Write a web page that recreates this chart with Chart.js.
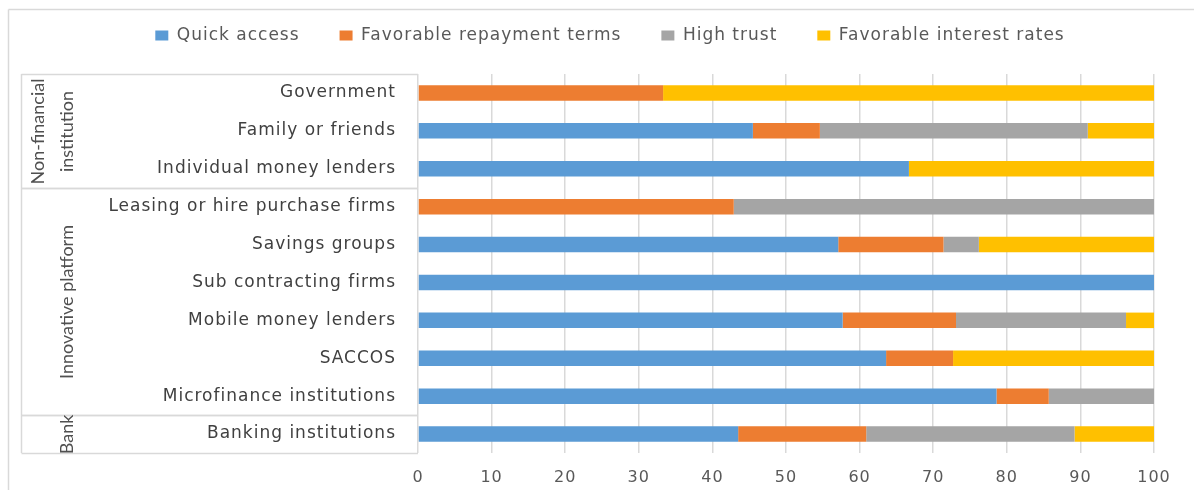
<!DOCTYPE html>
<html>
<head>
<meta charset="utf-8">
<title>Reasons for choosing a source of finance</title>
<script src="https://cdn.jsdelivr.net/npm/chart.js@4.4.0/dist/chart.umd.min.js"></script>
<style>
  html, body { margin: 0; padding: 0; background: #ffffff; }
  #wrap { width: 1194px; height: 490px; position: relative; }
</style>
</head>
<body>
<div id="wrap"><canvas id="chart" width="1194" height="490"></canvas></div>
<script>
// Sources of finance, top to bottom
const categories = [
  'Government',
  'Family or friends',
  'Individual money lenders',
  'Leasing or hire purchase firms',
  'Savings groups',
  'Sub contracting firms',
  'Mobile money lenders',
  'SACCOS',
  'Microfinance institutions',
  'Banking institutions'
];

// Share of respondents (%) citing each reason
const quickAccess        = [0,    45.5, 66.7, 0,    57.1, 100, 57.7, 63.6, 78.6, 43.5];
const repaymentTerms     = [33.3, 9.1,  0,    42.9, 14.3, 0,   15.4, 9.1,  7.1,  17.4];
const highTrust          = [0,    36.4, 0,    57.1, 4.8,  0,   23.1, 0,    14.3, 28.3];
const interestRates      = [66.7, 9.1,  33.3, 0,    23.8, 0,   3.8,  27.3, 0,    10.9];

const seriesNames = ['Quick access', 'Favorable repayment terms', 'High trust', 'Favorable interest rates'];
const seriesColors = ['#5B9BD5', '#ED7D31', '#A5A5A5', '#FFC000'];

// Institution types grouping the rows (first/last row index)
const groupNames = [['Non-financial', 'institution'], ['Innovative platform'], ['Bank']];
const groupFirst = [0, 3, 9];
const groupLast  = [2, 8, 9];

// Value axis
const axisMin = 0;
const axisMax = 100;
const axisStep = 10;

const LINE = '#d9d9d9';
const TEXT = '#595959';
const SPACING = '1px';
const FONT = 'DejaVu Sans';

// Wide letter spacing for all chart text
const spacingPlugin = {
  id: 'spacing',
  beforeLayout(chart) { chart.ctx.letterSpacing = SPACING; },
  beforeDraw(chart) { chart.ctx.letterSpacing = SPACING; }
};

// Nudge the legend row horizontally
const LEGEND_SHIFT = 33;
const legendShift = {
  id: 'legendShift',
  afterLayout(chart) {
    if (chart.legend) { chart.legend.left += LEGEND_SHIFT; chart.legend.right += LEGEND_SHIFT; }
  }
};

// Outer frame, category table rules and rotated group labels
const tablePlugin = {
  id: 'table',
  afterDraw(chart) {
    const { ctx, chartArea: a, scales: { y } } = chart;
    const half = Math.abs(y.getPixelForValue(1) - y.getPixelForValue(0)) / 2;
    const tableLeft = 21.5;
    const seg = (x1, y1, x2, y2) => { ctx.beginPath(); ctx.moveTo(x1, y1); ctx.lineTo(x2, y2); ctx.stroke(); };

    ctx.save();
    ctx.letterSpacing = '0px';
    ctx.strokeStyle = LINE;
    ctx.lineWidth = 1.5;
    seg(8.5, 9.5, chart.width, 9.5);
    seg(8.5, 9.5, 8.5, chart.height);
    seg(tableLeft, a.top, tableLeft, a.bottom);

    ctx.fillStyle = '#505050';
    ctx.font = '18px "Liberation Sans Narrow", Lato, sans-serif';
    ctx.textAlign = 'center';
    ctx.textBaseline = 'middle';
    groupNames.forEach((lines, i) => {
      const top = Math.round(y.getPixelForValue(groupFirst[i]) - half) + 0.5;
      const bottom = Math.round(y.getPixelForValue(groupLast[i]) + half) + 0.5;
      seg(tableLeft, top, a.left, top);
      seg(tableLeft, bottom, a.left, bottom);
      const cy = (top + bottom) / 2;
      lines.forEach((txt, j) => {
        const x = 67 - 29 * (lines.length - 1 - j);
        ctx.save();
        ctx.translate(x, cy);
        ctx.rotate(-Math.PI / 2);
        ctx.fillText(txt, 0, 0);
        ctx.restore();
      });
    });
    ctx.restore();
  }
};

const seriesData = [quickAccess, repaymentTerms, highTrust, interestRates];

new Chart(document.getElementById('chart'), {
  type: 'bar',
  data: {
    labels: categories,
    datasets: seriesData.map((d, i) => ({
      label: seriesNames[i],
      data: d,
      backgroundColor: seriesColors[i],
      borderWidth: 0,
      barPercentage: 0.41,
      categoryPercentage: 1
    }))
  },
  options: {
    indexAxis: 'y',
    responsive: false,
    devicePixelRatio: 1,
    animation: false,
    layout: { padding: { top: -13, right: 40, bottom: 0, left: 0 } },
    plugins: {
      tooltip: { enabled: false },
      legend: {
        position: 'top',
        labels: {
          color: TEXT,
          font: { family: FONT, size: 17 },
          boxWidth: 13,
          boxHeight: 10,
          padding: 40
        }
      }
    },
    scales: {
      x: {
        type: 'linear',
        stacked: true,
        min: axisMin,
        max: axisMax,
        ticks: { stepSize: axisStep, color: TEXT, font: { family: FONT, size: 16 }, padding: 15 },
        grid: { color: LINE, lineWidth: 1.5, drawTicks: false },
        border: { display: false },
        afterFit(s) { s.height = 37; }
      },
      xGap: {
        type: 'linear',
        axis: 'x',
        position: 'top',
        display: true,
        grid: { display: false },
        ticks: { display: false },
        border: { display: false },
        afterFit(s) { s.height = 20; }
      },
      y: {
        stacked: true,
        ticks: { color: '#404040', font: { family: FONT, size: 17 }, padding: 22 },
        grid: { display: false, drawTicks: false },
        border: { display: false },
        afterFit(s) { s.width = 418; }
      }
    }
  },
  plugins: [spacingPlugin, legendShift, tablePlugin]
});
</script>
</body>
</html>
